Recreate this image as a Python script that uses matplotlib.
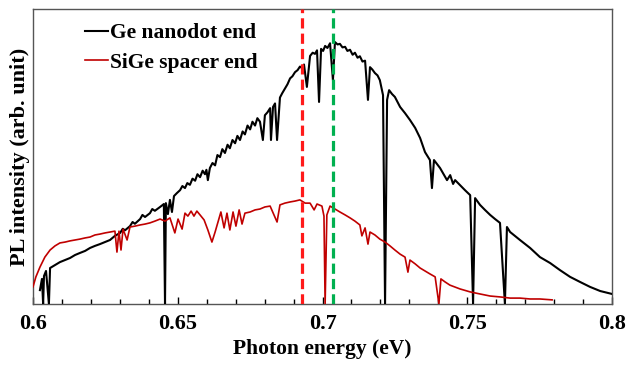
import numpy as np
import matplotlib.pyplot as plt
from matplotlib.ticker import MultipleLocator

plt.rcParams['font.family'] = ['Liberation Serif', 'DejaVu Serif']
plt.rcParams['font.weight'] = 'bold'

# Ge nanodot end: (photon energy eV, PL intensity arb. unit)
ge_points = [
    (0.6024, 0.047), (0.6031, 0.085), (0.6035, 0.0), (0.6038, 0.095), (0.6045, 0.112),
    (0.6055, 0.0), (0.6059, 0.122), (0.6076, 0.132), (0.6093, 0.142), (0.6111, 0.149),
    (0.6128, 0.156), (0.6145, 0.166), (0.6162, 0.173), (0.6180, 0.180), (0.6197, 0.190),
    (0.6214, 0.197), (0.6231, 0.203), (0.6249, 0.210), (0.6266, 0.217), (0.6283, 0.231),
    (0.6301, 0.241), (0.6310, 0.255), (0.6318, 0.250), (0.6335, 0.264), (0.6344, 0.278),
    (0.6352, 0.272), (0.6370, 0.288), (0.6378, 0.302), (0.6387, 0.295), (0.6404, 0.308),
    (0.6412, 0.322), (0.6421, 0.316), (0.6439, 0.329), (0.6452, 0.339), (0.6456, 0.0),
    (0.6459, 0.342), (0.6466, 0.305), (0.6473, 0.353), (0.6480, 0.312), (0.6487, 0.366),
    (0.6497, 0.376), (0.6508, 0.386), (0.6516, 0.400), (0.6525, 0.393), (0.6533, 0.410),
    (0.6542, 0.404), (0.6551, 0.425), (0.6560, 0.418), (0.6568, 0.440), (0.6577, 0.430),
    (0.6586, 0.452), (0.6594, 0.440), (0.6599, 0.455), (0.6604, 0.420), (0.6611, 0.461),
    (0.6620, 0.478), (0.6629, 0.470), (0.6637, 0.505), (0.6646, 0.498), (0.6654, 0.525),
    (0.6663, 0.512), (0.6672, 0.540), (0.6680, 0.528), (0.6689, 0.556), (0.6698, 0.545),
    (0.6706, 0.570), (0.6715, 0.556), (0.6724, 0.585), (0.6732, 0.575), (0.6741, 0.605),
    (0.6750, 0.592), (0.6758, 0.618), (0.6767, 0.605), (0.6775, 0.630), (0.6784, 0.618),
    (0.6794, 0.556), (0.6801, 0.640), (0.6810, 0.650), (0.6819, 0.664), (0.6822, 0.556),
    (0.6829, 0.668), (0.6836, 0.680), (0.6843, 0.556), (0.6853, 0.700), (0.6861, 0.715),
    (0.6870, 0.730), (0.6879, 0.745), (0.6888, 0.765), (0.6896, 0.772), (0.6905, 0.786),
    (0.6914, 0.793), (0.6922, 0.805), (0.6929, 0.800), (0.6936, 0.812), (0.6946, 0.736),
    (0.6957, 0.841), (0.6966, 0.852), (0.6974, 0.848), (0.6981, 0.860), (0.6988, 0.685),
    (0.6995, 0.865), (0.7002, 0.858), (0.7009, 0.875), (0.7017, 0.868), (0.7026, 0.884),
    (0.7036, 0.759), (0.7043, 0.888), (0.7052, 0.880), (0.7060, 0.882), (0.7069, 0.870),
    (0.7078, 0.872), (0.7086, 0.858), (0.7095, 0.862), (0.7104, 0.845), (0.7112, 0.852),
    (0.7121, 0.835), (0.7129, 0.840), (0.7138, 0.822), (0.7147, 0.825), (0.7157, 0.692),
    (0.7164, 0.803), (0.7172, 0.795), (0.7181, 0.783), (0.7190, 0.775), (0.7198, 0.759),
    (0.7209, 0.708), (0.7216, 0.0), (0.7223, 0.692), (0.7230, 0.725), (0.7240, 0.712),
    (0.7250, 0.702), (0.7268, 0.668), (0.7285, 0.647), (0.7302, 0.624), (0.7320, 0.597),
    (0.7337, 0.563), (0.7354, 0.515), (0.7371, 0.488), (0.7378, 0.393), (0.7385, 0.488),
    (0.7406, 0.461), (0.7430, 0.420), (0.7441, 0.437), (0.7451, 0.407), (0.7458, 0.420),
    (0.7475, 0.403), (0.7492, 0.386), (0.7510, 0.369), (0.7520, 0.0), (0.7527, 0.359),
    (0.7544, 0.336), (0.7561, 0.319), (0.7579, 0.302), (0.7596, 0.288), (0.7613, 0.275),
    (0.7630, 0.0), (0.7637, 0.261), (0.7648, 0.244), (0.7682, 0.217), (0.7717, 0.190),
    (0.7751, 0.159), (0.7786, 0.139), (0.7820, 0.115), (0.7855, 0.092), (0.7889, 0.075),
    (0.7924, 0.058), (0.7959, 0.044), (0.8000, 0.034),
]

# SiGe spacer end
sige_points = [
    (0.6000, 0.058), (0.6010, 0.092), (0.6024, 0.125), (0.6041, 0.159), (0.6059, 0.183),
    (0.6076, 0.197), (0.6093, 0.207), (0.6111, 0.210), (0.6128, 0.214), (0.6145, 0.217),
    (0.6162, 0.220), (0.6180, 0.224), (0.6197, 0.227), (0.6214, 0.234), (0.6231, 0.237),
    (0.6249, 0.241), (0.6266, 0.244), (0.6283, 0.247), (0.6290, 0.176), (0.6297, 0.247),
    (0.6304, 0.183), (0.6311, 0.254), (0.6325, 0.217), (0.6335, 0.261), (0.6352, 0.264),
    (0.6370, 0.268), (0.6387, 0.271), (0.6404, 0.275), (0.6421, 0.281), (0.6439, 0.288),
    (0.6456, 0.281), (0.6473, 0.292), (0.6490, 0.241), (0.6501, 0.288), (0.6515, 0.254),
    (0.6525, 0.308), (0.6535, 0.298), (0.6546, 0.315), (0.6556, 0.298), (0.6566, 0.315),
    (0.6577, 0.302), (0.6591, 0.285), (0.6604, 0.251), (0.6618, 0.210), (0.6629, 0.244),
    (0.6639, 0.278), (0.6649, 0.312), (0.6660, 0.258), (0.6670, 0.308), (0.6680, 0.251),
    (0.6691, 0.312), (0.6701, 0.264), (0.6712, 0.319), (0.6722, 0.271), (0.6732, 0.308),
    (0.6750, 0.312), (0.6767, 0.319), (0.6784, 0.322), (0.6801, 0.329), (0.6819, 0.332),
    (0.6843, 0.278), (0.6853, 0.336), (0.6870, 0.342), (0.6888, 0.346), (0.6905, 0.349),
    (0.6922, 0.353), (0.6940, 0.342), (0.6957, 0.342), (0.6971, 0.319), (0.6981, 0.339),
    (0.6998, 0.332), (0.7005, 0.298), (0.7009, 0.0), (0.7015, 0.302), (0.7026, 0.332),
    (0.7043, 0.322), (0.7060, 0.312), (0.7078, 0.302), (0.7095, 0.292), (0.7112, 0.281),
    (0.7129, 0.268), (0.7136, 0.231), (0.7147, 0.258), (0.7157, 0.203), (0.7164, 0.244),
    (0.7181, 0.234), (0.7198, 0.220), (0.7216, 0.210), (0.7233, 0.197), (0.7250, 0.183),
    (0.7268, 0.169), (0.7285, 0.159), (0.7295, 0.108), (0.7302, 0.149), (0.7320, 0.136),
    (0.7337, 0.122), (0.7354, 0.112), (0.7371, 0.102), (0.7389, 0.092), (0.7402, 0.0),
    (0.7409, 0.085), (0.7423, 0.075), (0.7440, 0.064), (0.7475, 0.051), (0.7510, 0.041),
    (0.7544, 0.034), (0.7579, 0.027), (0.7613, 0.024), (0.7648, 0.020), (0.7682, 0.020),
    (0.7717, 0.017), (0.7751, 0.017), (0.7793, 0.014),
]

peak_sige = 0.6929
peak_ge = 0.7036

ge_e, ge_i = zip(*ge_points)
sige_e, sige_i = zip(*sige_points)

fig = plt.figure(figsize=(6.26, 3.71), dpi=100)
ax = fig.add_axes([0.0527, 0.1806, 0.925, 0.795])

ax.plot(ge_e, ge_i, color='black', linewidth=1.5, label='Ge nanodot end', zorder=3)
ax.plot(sige_e, sige_i, color='#c00000', linewidth=1.2, label='SiGe spacer end', zorder=3)
ax.axvline(peak_sige, color='#ff1a1a', linewidth=2.3, linestyle=(0, (3.2, 1.6)), zorder=4)
ax.axvline(peak_ge, color='#00b050', linewidth=2.3, linestyle=(0, (3.2, 1.6)), zorder=4)

ax.set_xlim(0.6, 0.8)
ax.set_ylim(0, 1)
ax.xaxis.set_minor_locator(MultipleLocator(0.01))
ax.set_xticks([0.6, 0.65, 0.7, 0.75, 0.8])
ax.set_xticklabels(['0.6', '0.65', '0.7', '0.75', '0.8'])
ax.tick_params(axis='x', which='major', direction='in', length=5, width=1, labelsize=16, pad=7)
ax.tick_params(axis='x', which='minor', direction='in', length=3.5, width=1)
ax.set_yticks([])
for s in ax.spines.values():
    s.set_color('#555555')
    s.set_linewidth(1.0)

ax.set_xlabel('Photon energy (eV)', fontsize=15.5, fontweight='bold', labelpad=4)
ax.set_ylabel('PL intensity (arb. unit)', fontsize=16, fontweight='bold', labelpad=2)

leg = ax.legend(loc='upper left', bbox_to_anchor=(0.065, 1.0), frameon=False, fontsize=15.5,
                handlelength=1.1, handletextpad=0.1, labelspacing=0.45, borderaxespad=0.25)
for t in leg.get_texts():
    t.set_fontweight('bold')

plt.savefig('out.png', dpi=100)
